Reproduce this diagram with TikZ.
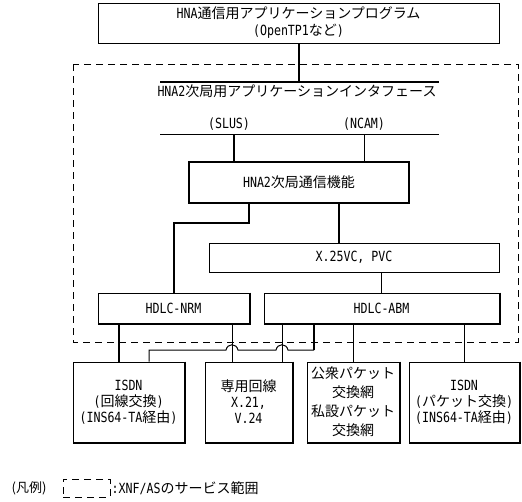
\documentclass[tikz,border=0pt]{standalone}
\usepackage{fontspec}
\setmainfont{Noto Sans CJK JP}
\newfontfamily\lat{DejaVu Sans Mono}[FakeStretch=0.83]
\usetikzlibrary{calc}
\begin{document}
\begin{tikzpicture}[x=1pt,y=-1pt,
  thn/.style={line width=1pt},
  thk/.style={line width=2pt},
  box/.style={draw, line width=1pt, rectangle, inner sep=0pt, align=center, font=\fontsize{14}{16}\selectfont},
  lbl/.style={inner sep=0pt, align=center, font=\fontsize{14}{16}\selectfont},
  dsh/.style={line width=1pt, dash pattern=on 7pt off 5pt}]
\useasboundingbox (0,0) rectangle (522,501);
% top
\node[box, minimum width=401pt, minimum height=40pt, font=\fontsize{14}{17}\selectfont] (top) at (298.5,23)
  {{\lat HNA}通信用アプリケーションプログラム\\{\lat (OpenTP1}など{\lat )}};
% service range frame
\draw[dsh] (73,64) rectangle (518,342);
% interface
\coordinate (ifL) at (160,82); \coordinate (ifR) at (439,82);
\draw[thk] (ifL) -- (ifR);
\draw[thk] (top.south) -- (top.south |- ifL);
\node[lbl] (iflab) at (297,91.5) {{\lat HNA2}次局用アプリケーションインタフェース};
\node[lbl] (slus) at (229,124) {{\lat (SLUS)}};
\node[lbl] (ncam) at (364,124) {{\lat (NCAM)}};
\coordinate (lnL) at (160,134); \coordinate (lnR) at (439,134);
\draw[thn] (lnL) -- (lnR);
% HNA2 box
\node[box, line width=2pt, minimum width=220pt, minimum height=41pt] (hna) at (299,182.5) {{\lat HNA2}次局通信機能};
\coordinate (s1) at ([xshift=-65pt]hna.north);
\coordinate (s2) at ([xshift=65pt]hna.north);
\draw[thk] (s1) -- (s1 |- lnL);
\draw[thn] (s2) -- (s2 |- lnL);
% X.25
\node[box, minimum width=290pt, minimum height=29pt] (x25) at (354,257.5) {{\lat X.25VC, PVC}};
% HDLC
\node[box, minimum width=151pt, minimum height=30pt] (nrm) at (173.5,308) {{\lat HDLC-NRM}};
\node[box, minimum width=235pt, minimum height=30pt] (abm) at (381.5,308) {{\lat HDLC-ABM}};
\coordinate (h1) at ([xshift=-50pt]hna.south);
\coordinate (h2) at ([xshift=40pt]hna.south);
\draw[thk] (h1) -- ++(0,19) -| (nrm.north);
\draw[thk] (h2) -- (h2 |- x25.north);
\draw[thn] (abm.north |- x25.south) -- (abm.north);
% bottom boxes
\node[box, minimum width=111pt, minimum height=80pt] (b1) at (128.5,402)
  {{\lat ISDN}\\{\lat (}回線交換{\lat )}\\{\lat (INS64-TA}経由{\lat )}};
\node[box, minimum width=87pt, minimum height=80pt] (b2) at (248.5,402)
  {専用回線\\{\lat X.21,}\\{\lat V.24}};
\node[box, minimum width=92pt, minimum height=80pt, font=\fontsize{14}{19}\selectfont] (b3) at (353,402)
  {公衆パケット\\交換網\\私設パケット\\交換網};
\node[box, minimum width=110pt, minimum height=80pt] (b4) at (464,402)
  {{\lat ISDN}\\{\lat (}パケット交換{\lat )}\\{\lat (INS64-TA}経由{\lat )}};
\foreach \n in {nrm,abm,b1,b2,b3,b4}
  \draw[line width=2pt] (\n.north east) -- (\n.south east) -- (\n.south west);
% connectors to bottom boxes
\coordinate (p1) at ([xshift=-54.5pt]nrm.south);
\coordinate (p2) at ([xshift=58.5pt]nrm.south);
\coordinate (p4) at ([xshift=-99.5pt]abm.south);
\coordinate (p5) at ([xshift=-67.5pt]abm.south);
\coordinate (p6) at ([xshift=-28.5pt]abm.south);
\coordinate (p7) at ([xshift=82.5pt]abm.south);
\coordinate (q1) at ([xshift=20.5pt]b1.north);
\coordinate (hy) at (0,350);
\draw[thk] (p1) -- (p1 |- b1.north);
\draw[thn] (p2) -- (p2 |- b2.north);
\draw[thn] (p4) -- (p4 |- b2.north);
\draw[thn] (p6) -- (p6 |- b3.north);
\draw[thn] (p7) -- (p7 |- b4.north);
\draw[thk] (p5) -- (p5 |- hy);
\draw[thn] (p5 |- hy) -- ($(p4 |- hy)+(6,0)$)
  .. controls +(-1.5,-7) and +(1.5,-7) .. ($(p4 |- hy)+(-6,0)$)
  -- ($(p2 |- hy)+(6,0)$)
  .. controls +(-1.5,-7) and +(1.5,-7) .. ($(p2 |- hy)+(-6,0)$)
  -- (q1 |- hy) -- (q1);
% legend
\node[lbl, font=\fontsize{13}{15}\selectfont] (leg) at (29,488) {(凡例)};
\node[draw, dsh, minimum width=47pt, minimum height=18pt, inner sep=0pt] (legbox) at (86.5,488) {};
\node[lbl, anchor=west] (legt) at ([xshift=1pt]legbox.east) {{\lat :XNF/AS}のサービス範囲};
\end{tikzpicture}
\end{document}
